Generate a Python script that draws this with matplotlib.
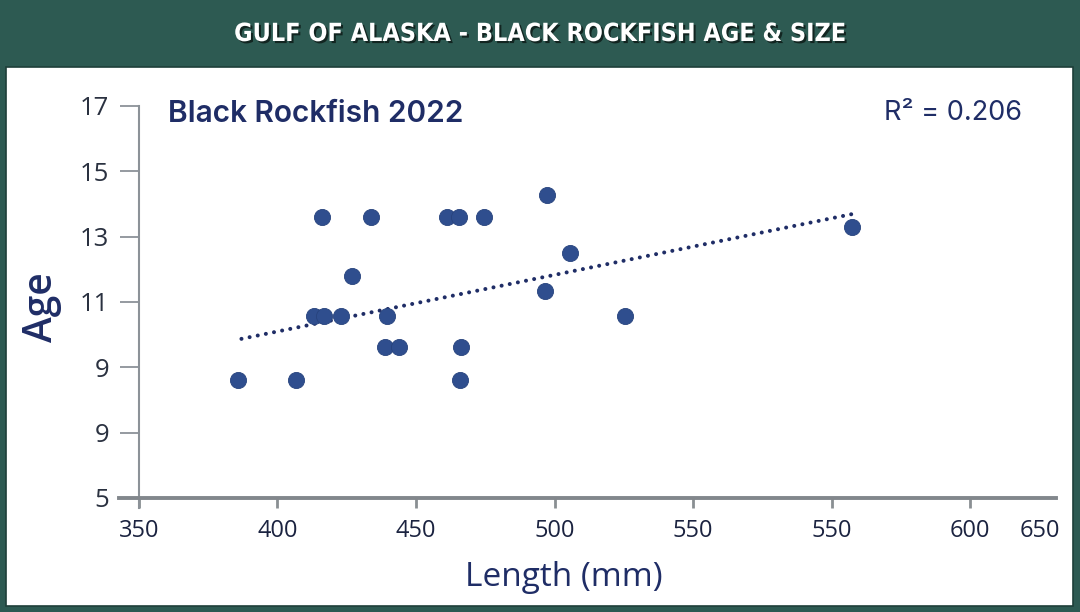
import matplotlib
matplotlib.use("Agg")
import matplotlib.pyplot as plt
import matplotlib.patheffects as pe
from matplotlib.patches import Rectangle

# data
length_mm = [385.7, 406.7, 413.2, 416.8, 416.1, 422.9, 426.9, 433.8, 438.8, 439.5,
             443.9, 461.2, 465.5, 465.9, 466.2, 474.5, 496.6, 497.3, 505.6, 525.4, 607.4]
age = [8.61, 8.61, 10.57, 10.57, 13.6, 10.57, 11.8, 13.6, 9.62, 10.57,
       9.62, 13.6, 13.6, 8.61, 9.62, 13.6, 11.34, 14.27, 12.5, 10.57, 13.3]

trend_x = [387.0, 607.4]
trend_y = [9.87, 13.69]

y_ticks = [5, 7, 9, 11, 13, 15, 17]
y_labels = ['5', '9', '9', '11', '13', '15', '17']
x_ticks = [350, 400, 450, 500, 550, 600, 650]
x_labels = ['350', '400', '450', '500', '550', '550', '600']
x_extra_tick = [675.3]
x_extra_label = ['650']

title = "GULF OF ALASKA - BLACK ROCKFISH AGE & SIZE"
subtitle = "Black Rockfish 2022"
r2_text = "R² = 0.206"

GREEN = '#2D5A52'
NAVY = '#1F2D66'
DOT = '#2F4E8E'

W, H = 1080, 612
fig = plt.figure(figsize=(W / 100, H / 100), dpi=100, facecolor=GREEN)

# white panel
fig.patches.append(Rectangle((6 / W, (H - 606) / H), (1073 - 6) / W, (606 - 67) / H,
                             transform=fig.transFigure, facecolor='white',
                             edgecolor='#1E3F39', lw=1.2, zorder=-5))

fig.text(0.5, 1 - 34 / H, title, ha='center', va='center', color='white',
         fontsize=18, fontweight='heavy', fontstretch='condensed',
         family=['Liberation Sans Narrow', 'DejaVu Sans'],
         path_effects=[pe.SimplePatchShadow(offset=(1.5, -1.5), shadow_rgbFace='#10201c', alpha=0.9),
                       pe.Normal()])

ax = fig.add_axes([119 / W, (H - 508) / H, (1056 - 119) / W, (508 - 106) / H])
ax.patch.set_visible(False)
ax.set_xlim(342.8, 681)
ax.set_ylim(4.69, 17)

for s in ['top', 'right']:
    ax.spines[s].set_visible(False)
ax.spines['left'].set_position(('data', 350))
ax.spines['bottom'].set_position(('data', 5))
ax.spines['left'].set_color('#8C9298')
ax.spines['left'].set_linewidth(1.5)
ax.spines['bottom'].set_color('#82878C')
ax.spines['bottom'].set_linewidth(2.8)

ax.set_yticks(y_ticks, y_labels)
ax.set_xticks(x_ticks, x_labels)
ax.set_xticks(x_extra_tick, x_extra_label, minor=True)

ax.tick_params(axis='y', direction='out', length=13.5, width=1.3, color='#8C9298',
               pad=8, labelsize=18.5, labelcolor='#2A3140')
ax.tick_params(axis='x', which='major', direction='out', length=7.5, width=2, color='#8A8F93',
               pad=8, labelsize=17, labelcolor='#1B2340')
ax.tick_params(axis='x', which='minor', length=0, pad=15.5, labelsize=17, labelcolor='#1B2340')
for lab in ax.get_xticklabels() + ax.get_xticklabels(minor=True) + ax.get_yticklabels():
    lab.set_family(['Open Sans', 'DejaVu Sans'])

ax.scatter(length_mm, age, s=135, color=DOT, edgecolor='#27437D', linewidth=0.6, zorder=3)
ax.plot(trend_x, trend_y, color=NAVY, lw=2.9, linestyle=(0, (0.01, 2.05)),
        dash_capstyle='round', zorder=2)

fig.text(42 / W, 1 - 307 / H, 'Age', rotation=90, ha='center', va='center',
         fontsize=28, fontweight='semibold', color=NAVY, family=['Open Sans', 'DejaVu Sans'])
fig.text(564 / W, 1 - 578 / H, 'Length (mm)', ha='center', va='center',
         fontsize=24, fontweight='medium', color=NAVY, family=['Open Sans', 'DejaVu Sans'])
fig.text(168 / W, 1 - 114 / H, subtitle, ha='left', va='center',
         fontsize=21.5, fontweight='semibold', color=NAVY, family=['Inter', 'DejaVu Sans'])
fig.text(1022 / W, 1 - 113 / H, r2_text, ha='right', va='center',
         fontsize=19.5, color=NAVY, family=['Inter', 'DejaVu Sans'])

fig.savefig('out.png', dpi=100, facecolor=GREEN)
